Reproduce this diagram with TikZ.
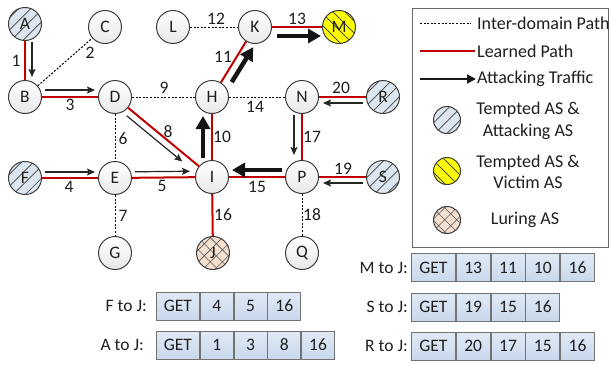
\documentclass[tikz,border=0pt]{standalone}
\usepackage{fontspec}
\setmainfont{Carlito}
\usetikzlibrary{arrows.meta,patterns.meta,calc}

\definecolor{lrnred}{RGB}{192,0,0}
\definecolor{hatchblue}{RGB}{220,230,241}
\definecolor{victimyellow}{RGB}{255,255,0}
\definecolor{lurepeach}{RGB}{246,224,208}
\definecolor{cellblue}{RGB}{224,234,245}
\definecolor{cellblue2}{RGB}{200,216,236}
\definecolor{rimgray}{RGB}{60,60,60}

\tikzset{
  txt/.style={font=\fontsize{17.5}{21}\selectfont, text=black!88},
  legtxt/.style={font=\fontsize{18}{21.5}\selectfont, text=black!88},
  asbase/.style={circle, draw=rimgray, line width=1pt, minimum size=33pt, inner sep=0pt, txt},
  plainas/.style={asbase, top color=white, bottom color=black!9},
  attackeras/.style={asbase, preaction={fill=hatchblue},
    pattern={Lines[angle=45,distance=8.5pt,line width=0.7pt]}, pattern color=black!75},
  victimas/.style={asbase, preaction={fill=victimyellow},
    pattern={Lines[angle=-45,distance=8.5pt,line width=0.7pt]}, pattern color=black!80},
  luringas/.style={asbase, preaction={fill=lurepeach},
    pattern={Hatch[angle=45,distance=8.5pt,line width=0.6pt]}, pattern color=black!65},
  legcircle/.style={minimum size=27pt},
  lbl/.style={inner sep=0pt, txt},
  leglbl/.style={inner sep=0pt, legtxt},
  learned/.style={draw=lrnred, line width=2pt},
  interdomain/.style={draw=black, line width=1pt, dash pattern=on 2pt off 1.6pt},
  thinatk/.style={draw=black!85, line width=1.2pt, -{Stealth[length=8pt,width=7pt,inset=1.5pt]}},
  thickatk/.style={draw=black!92, line width=4.5pt, -{Triangle[length=13pt,width=14pt]}},
  legarrow/.style={draw=black!90, line width=1.5pt, -{Triangle[length=9pt,width=9pt]}},
  cell/.style={draw=black!55, line width=0.8pt, top color=cellblue, bottom color=cellblue2,
    minimum height=28pt, inner sep=0pt, anchor=west, txt},
  getcell/.style={cell, minimum width=44pt},
  numcell/.style={cell, minimum width=34pt},
}

\begin{document}
\begin{tikzpicture}[x=1pt, y=-1pt]
\useasboundingbox (0,0) rectangle (610,364);
\fill[white] (0,0) rectangle (610,364);

% autonomous systems
\node[attackeras] (A) at (25,24) {A};
\node[plainas]    (C) at (105,27) {C};
\node[plainas]    (L) at (173,27) {L};
\node[plainas]    (K) at (255,27) {K};
\node[victimas]   (M) at (339,27) {M};
\node[plainas]    (B) at (25,97) {B};
\node[plainas]    (D) at (115,97) {D};
\node[plainas]    (H) at (212,97) {H};
\node[plainas]    (N) at (302,97) {N};
\node[attackeras] (R) at (383,97) {R};
\node[attackeras] (F) at (25,178) {F};
\node[plainas]    (E) at (115,178) {E};
\node[plainas]    (I) at (212,177) {I};
\node[plainas]    (P) at (302,177) {P};
\node[attackeras] (S) at (383,177) {S};
\node[plainas]    (G) at (115,253) {G};
\node[luringas]   (J) at (213,253) {J};
\node[plainas]    (Q) at (302,253) {Q};

% inter-domain links
\draw[interdomain] (B) -- (C);
\draw[interdomain] (D) -- (H);
\draw[interdomain] (H) -- (N);
\draw[interdomain] (L) -- (K);
\draw[interdomain] (D) -- (E);
\draw[interdomain] (E) -- (G);
\draw[interdomain] (P) -- (Q);

% learned paths
\draw[learned] (A) -- (B);
\draw[learned] (B) -- (D);
\draw[learned] (D) -- (I);
\draw[learned] (H) -- (I);
\draw[learned] (H) -- (K);
\draw[learned] (K) -- (M);
\draw[learned] (F) -- (E);
\draw[learned] (E) -- (I);
\draw[learned] (I) -- (J);
\draw[learned] (I) -- (P);
\draw[learned] (N) -- (P);
\draw[learned] (R) -- (N);
\draw[learned] (S) -- (P);

% link numbers
\node[lbl] (n1)  at (16,61)   {1};
\node[lbl] (n2)  at (90,53)   {2};
\node[lbl] (n3)  at (70,105)  {3};
\node[lbl] (n4)  at (69,187)  {4};
\node[lbl] (n5)  at (162,186) {5};
\node[lbl] (n6)  at (123,139) {6};
\node[lbl] (n7)  at (123,216) {7};
\node[lbl] (n8)  at (168,132) {8};
\node[lbl] (n9)  at (164,88)  {9};
\node[lbl] (n10) at (222,137) {10};
\node[lbl] (n11) at (223,57)  {11};
\node[lbl] (n12) at (216,19)  {12};
\node[lbl] (n13) at (297,19)  {13};
\node[lbl] (n14) at (255,107) {14};
\node[lbl] (n15) at (257,187) {15};
\node[lbl] (n16) at (223,215) {16};
\node[lbl] (n17) at (312,137) {17};
\node[lbl] (n18) at (312,215) {18};
\node[lbl] (n19) at (343,169) {19};
\node[lbl] (n20) at (341,88)  {20};

% attacking traffic
\draw[thinatk] ($(A)!18pt!(B)+(7,0)$) -- ($(A)!53pt!(B)+(7,0)$);
\draw[thinatk] ($(B)!20pt!(D)+(0,-7)$) -- ($(B)!70pt!(D)+(0,-7)$);
\draw[thinatk] ($(F)!20pt!(E)+(0,-6)$) -- ($(F)!70pt!(E)+(0,-6)$);
\draw[thinatk] ($(E)!20pt!(I)+(0,-6)$) -- ($(E)!75pt!(I)+(0,-6)$);
\draw[thinatk] ($(D)!21pt!(I)+(-4.5,5.4)$) -- ($(D)!93pt!(I)+(-4.5,5.4)$);
\draw[thinatk] ($(N)!18pt!(P)+(-8,0)$) -- ($(N)!58pt!(P)+(-8,0)$);
\draw[thinatk] ($(R)!20pt!(N)+(0,6)$) -- ($(R)!60pt!(N)+(0,6)$);
\draw[thinatk] ($(S)!20pt!(P)+(0,6)$) -- ($(S)!60pt!(P)+(0,6)$);
\draw[thickatk] ($(I)!19pt!(H)+(-9,0)$) -- ($(I)!61pt!(H)+(-9,0)$);
\draw[thickatk] ($(H)!23pt!(K)+(7.7,4.7)$) -- ($(H)!64pt!(K)+(7.7,4.7)$);
\draw[thickatk] ($(K)!22pt!(M)+(0,9)$) -- ($(K)!66pt!(M)+(0,9)$);
\draw[thickatk] ($(P)!20pt!(I)+(0,-7)$) -- ($(P)!70pt!(I)+(0,-7)$);

% legend
\draw[draw=black!60, line width=1pt] (412,8) rectangle (608,247);
\coordinate (k1a) at (420,23);  \coordinate (k1b) at (471,23);
\coordinate (k2a) at (420,51);  \coordinate (k2b) at (475,51);
\coordinate (k3a) at (420,79);  \coordinate (k3b) at (476,79);
\draw[interdomain] (k1a) -- (k1b);
\draw[learned, line width=1.6pt] (k2a) -- (k2b);
\draw[legarrow] (k3a) -- (k3b);
\node[leglbl, anchor=west] (t1) at (477,23) {Inter-domain Path};
\node[leglbl, anchor=west] (t2) at (477,51) {Learned Path};
\node[leglbl, anchor=west] (t3) at (477,79) {Attacking Traffic};
\node[attackeras, legcircle] (c1) at (447,120) {};
\node[victimas, legcircle]   (c2) at (447,171) {};
\node[luringas, legcircle]   (c3) at (447,220) {};
\node[leglbl, align=center] (t4) at (528,121) {Tempted AS \&\\Attacking AS};
\node[leglbl, align=center] (t5) at (528,172) {Tempted AS \&\\Victim AS};
\node[leglbl] (t6) at (525,220) {Luring AS};

% captured GET requests
\node[lbl, anchor=east] (mlab) at (408,267.5) {M to J:};
\node[getcell] (m0) at (411,267.5) {GET};
\node[numcell] (m1) at (m0.east) {13};
\node[numcell] (m2) at (m1.east) {11};
\node[numcell] (m3) at (m2.east) {10};
\node[numcell] (m4) at (m3.east) {16};

\node[lbl, anchor=east] (slab) at (408,307) {S to J:};
\node[getcell] (s0) at (411,307) {GET};
\node[numcell] (s1) at (s0.east) {19};
\node[numcell] (s2) at (s1.east) {15};
\node[numcell] (s3) at (s2.east) {16};

\node[lbl, anchor=east] (rlab) at (408,346) {R to J:};
\node[getcell] (r0) at (411,346) {GET};
\node[numcell] (r1) at (r0.east) {20};
\node[numcell] (r2) at (r1.east) {17};
\node[numcell] (r3) at (r2.east) {15};
\node[numcell] (r4) at (r3.east) {16};

\node[lbl, anchor=east] (flab) at (147,306) {F to J:};
\node[getcell, minimum width=43pt] (f0) at (156,306) {GET};
\node[numcell, minimum width=33pt] (f1) at (f0.east) {4};
\node[numcell, minimum width=33pt] (f2) at (f1.east) {5};
\node[numcell, minimum width=33pt] (f3) at (f2.east) {16};

\node[lbl, anchor=east] (alab) at (144,345) {A to J:};
\node[getcell, minimum width=43pt] (a0) at (156,345) {GET};
\node[numcell, minimum width=33pt] (a1) at (a0.east) {1};
\node[numcell, minimum width=33pt] (a2) at (a1.east) {3};
\node[numcell, minimum width=33pt] (a3) at (a2.east) {8};
\node[numcell, minimum width=33pt] (a4) at (a3.east) {16};
\end{tikzpicture}
\end{document}
